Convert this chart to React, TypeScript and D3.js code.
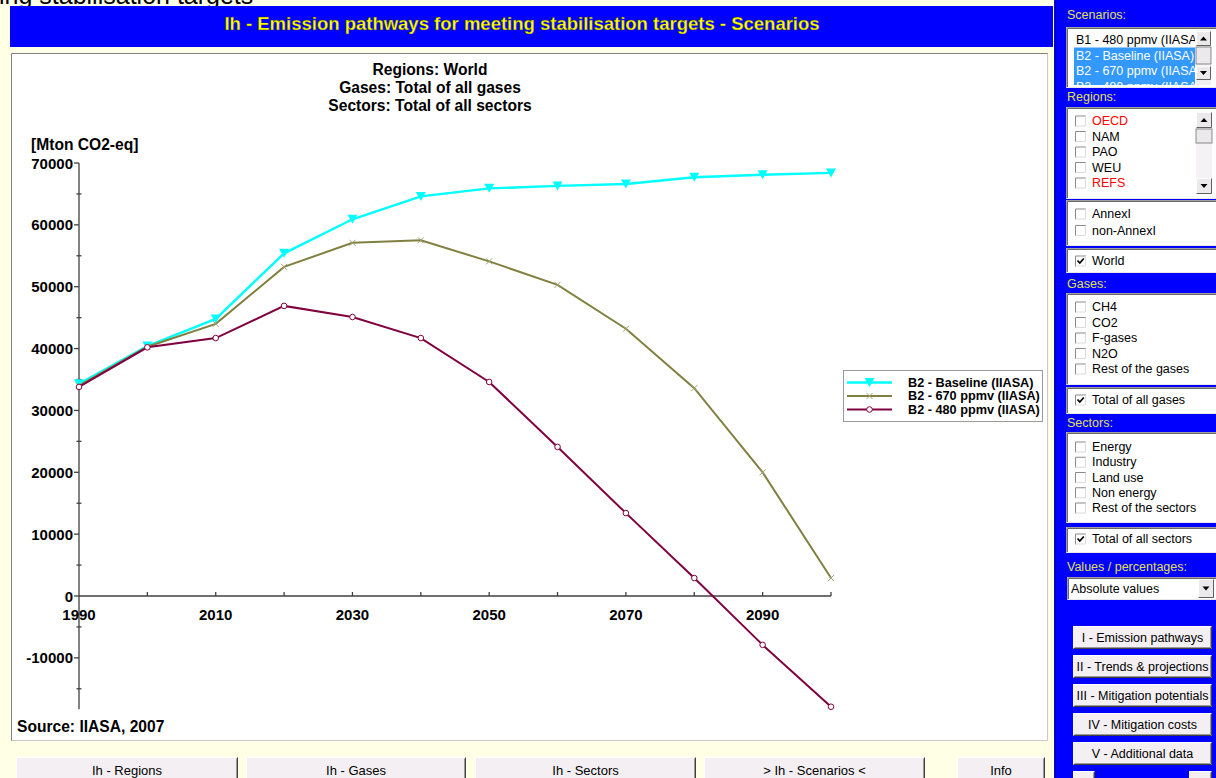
import React from 'react';
import * as d3 from 'd3';

// ---------- data ----------
const years = [1990, 2000, 2010, 2020, 2030, 2040, 2050, 2060, 2070, 2080, 2090, 2100];
const baseline = [34300, 40400, 44800, 55400, 60900, 64600, 65900, 66300, 66600, 67700, 68100, 68400];
const ppmv670 = [34000, 40300, 44000, 53200, 57100, 57500, 54100, 50300, 43200, 33600, 20000, 2900];
const ppmv480 = [33800, 40200, 41700, 46900, 45100, 41700, 34600, 24100, 13400, 2900, -7900, -17900];
const seriesNames = ['B2 - Baseline (IIASA)', 'B2 - 670 ppmv (IIASA)', 'B2 - 480 ppmv (IIASA)'];
const yTickLabels = [-10000, 0, 10000, 20000, 30000, 40000, 50000, 60000, 70000];
const xTickLabels = [1990, 2010, 2030, 2050, 2070, 2090];
const titleLines = ['Regions: World', 'Gases: Total of all gases', 'Sectors: Total of all sectors'];
const unitLabel = '[Mton CO2-eq]';
const sourceLabel = 'Source: IIASA, 2007';
const mainTitle = 'Ih - Emission pathways for meeting stabilisation targets - Scenarios';
const pageHeading = 'ing stabilisation targets';
const scenarioItems = ['B1 - 480 ppmv (IIASA)', 'B2 - Baseline (IIASA)', 'B2 - 670 ppmv (IIASA)', 'B2 - 480 ppmv (IIASA)'];
const scenarioSelected = [false, true, true, true];
const regionItems = ['OECD', 'NAM', 'PAO', 'WEU', 'REFS'];
const regionRed = [true, false, false, false, true];
const annexItems = ['AnnexI', 'non-AnnexI'];
const gasItems = ['CH4', 'CO2', 'F-gases', 'N2O', 'Rest of the gases'];
const sectorItems = ['Energy', 'Industry', 'Land use', 'Non energy', 'Rest of the sectors'];
const navButtons = ['I - Emission pathways', 'II - Trends & projections', 'III - Mitigation potentials', 'IV - Mitigation costs', 'V - Additional data'];
const bottomButtons = ['Ih - Regions', 'Ih - Gases', 'Ih - Sectors', '> Ih - Scenarios <', 'Info'];

const FONT = "'Liberation Sans', Arial, Helvetica, sans-serif";
const COLORS = ['#00FFFF', '#808040', '#800040'];
const BLUE = '#0000FF';
const PAGE_BG = '#FFFFE6';
const LABEL_YELLOW = '#E0E050';

const series = [baseline, ppmv670, ppmv480];

function Marker({ kind, cx, cy }: { kind: number; cx: number; cy: number }) {
  if (kind === 0) {
    return <path d={`M${cx - 5},${cy - 4.5}L${cx + 5},${cy - 4.5}L${cx},${cy + 4.5}Z`} fill={COLORS[0]} />;
  }
  if (kind === 1) {
    return (
      <path
        d={`M${cx - 3},${cy - 3}L${cx + 3},${cy + 3}M${cx - 3},${cy + 3}L${cx + 3},${cy - 3}`}
        stroke="#a0a070"
        strokeWidth={1}
        fill="none"
      />
    );
  }
  return <circle cx={cx} cy={cy} r={2.8} fill="#fff" stroke={COLORS[2]} strokeWidth={1} />;
}

function Checkbox({ x, cy, checked }: { x: number; cy: number; checked?: boolean }) {
  const y = cy - 5.5;
  return (
    <g>
      <rect x={x} y={y} width={11} height={11} fill="#fff" />
      <path d={`M${x + 0.5},${y + 11}V${y + 0.5}H${x + 11}`} stroke="#8a8a8a" fill="none" />
      <path d={`M${x + 0.5},${y + 10.5}H${x + 10.5}V${y + 0.5}`} stroke="#dcdcdc" fill="none" />
      {checked && (
        <path d={`M${x + 2.5},${y + 5} l2.3,2.5 l4,-4.5`} stroke="#000" strokeWidth={1.7} fill="none" />
      )}
    </g>
  );
}

function Sunken({ x, y, w, h }: { x: number; y: number; w: number; h: number }) {
  return (
    <g>
      <rect x={x} y={y} width={w} height={h} fill="#fff" />
      <path d={`M${x + 0.5},${y + h}V${y + 0.5}H${x + w}`} stroke="#a0a0a0" fill="none" />
      <path d={`M${x + 1.5},${y + h - 1}V${y + 1.5}H${x + w - 1}`} stroke="#696969" fill="none" />
      <path d={`M${x + 0.5},${y + h - 0.5}H${x + w - 0.5}V${y + 0.5}`} stroke="#e8e8e8" fill="none" />
    </g>
  );
}

function Button3D({ x, y, w, h, label, fontSize = 12.5, narrow = false }: any) {
  return (
    <g>
      <rect x={x} y={y} width={w} height={h} fill="#F3EFF3" />
      <path d={`M${x + 0.5},${y + h}V${y + 0.5}H${x + w}`} stroke="#ffffff" fill="none" />
      <path d={`M${x + 0.5},${y + h - 0.5}H${x + w - 0.5}V${y + 0.5}`} stroke="#404040" fill="none" />
      <path d={`M${x + 1.5},${y + h - 1.5}H${x + w - 1.5}V${y + 1.5}`} stroke="#9a9a9a" fill="none" />
      <text
        x={x + w / 2}
        y={y + h / 2 + 0.5}
        textAnchor="middle"
        dominantBaseline="central"
        fontFamily={narrow ? "'Liberation Sans Narrow', 'Arial Narrow', " + FONT : FONT}
        fontSize={fontSize}
        fill="#000"
      >
        {label}
      </text>
    </g>
  );
}

function ScrollArrow({ x, y, w, h, up }: any) {
  const cx = x + w / 2;
  const cy = y + h / 2;
  return (
    <g>
      <rect x={x} y={y} width={w} height={h} fill="#ECE9EC" />
      <path d={`M${x + 0.5},${y + h}V${y + 0.5}H${x + w}`} stroke="#fff" fill="none" />
      <path d={`M${x + 0.5},${y + h - 0.5}H${x + w - 0.5}V${y + 0.5}`} stroke="#606060" fill="none" />
      <path
        d={up ? `M${cx - 3.5},${cy + 2}L${cx + 3.5},${cy + 2}L${cx},${cy - 2}Z` : `M${cx - 3.5},${cy - 2}L${cx + 3.5},${cy - 2}L${cx},${cy + 2}Z`}
        fill="#000"
      />
    </g>
  );
}

export default function App() {
  const x = d3.scaleLinear().domain([1990, 2100]).range([79, 831]);
  const y = d3.scaleLinear().domain([0, 70000]).range([596, 163]);
  const yAxisBottom = y(-18300);
  const minorY = d3.range(-15000, 70001, 5000).filter((v) => v % 10000 !== 0);
  const xTicks = d3.range(2000, 2101, 10);
  const lineGen = d3
    .line<number>()
    .x((_, i) => x(years[i]))
    .y((d) => y(d));

  const panelX = 1066;
  const rowText = 1092;
  const cbX = 1075;

  return (
    <svg
      width={1216}
      height={778}
      viewBox="0 0 1216 778"
      style={{ position: 'absolute', left: 0, top: 0, display: 'block' }}
      fontFamily={FONT}
    >
      <rect x={0} y={0} width={1216} height={778} fill={PAGE_BG} />
      {/* page heading cut at top */}
      <text x={-1} y={3.5} fontSize={25} fill="#000" fontFamily={FONT}>
        {pageHeading}
      </text>

      {/* title bar */}
      <rect x={10} y={6} width={1043} height={41} fill={BLUE} />
      <text x={522} y={30} textAnchor="middle" fontSize={18.5} fontWeight="bold" fill="#FFFF00" stroke="#303000" strokeWidth={0.3}>
        {mainTitle}
      </text>

      {/* chart panel */}
      <rect x={11} y={53} width={1037} height={688} fill="#fff" />
      <path d="M11.5,741V53.5H1048" stroke="#808080" fill="none" />
      <path d="M11.5,740.5H1047.5V53.5" stroke="#c8c8c8" fill="none" />

      {titleLines.map((t, i) => (
        <text key={t} x={430} y={69 + i * 18} textAnchor="middle" dominantBaseline="central" fontSize={15.6} fontWeight="bold" fill="#000">
          {t}
        </text>
      ))}
      <text x={31} y={144} dominantBaseline="central" fontSize={15.6} fontWeight="bold" fill="#000">
        {unitLabel}
      </text>
      <text x={17} y={726} dominantBaseline="central" fontSize={15.6} fontWeight="bold" fill="#000">
        {sourceLabel}
      </text>

      {/* axes */}
      <g stroke="#404040" strokeWidth={1.3} fill="none">
        <line x1={x(1990)} x2={x(1990)} y1={y(70000)} y2={yAxisBottom} />
        <line x1={x(1990)} x2={x(2100)} y1={y(0)} y2={y(0)} />
        {yTickLabels.map((v) => (
          <line key={v} x1={x(1990) - 5} x2={x(1990)} y1={y(v)} y2={y(v)} />
        ))}
        {minorY.map((v) => (
          <line key={v} x1={x(1990) - 2.5} x2={x(1990) + 2.5} y1={y(v)} y2={y(v)} />
        ))}
        {xTicks.map((v) => (
          <line key={v} x1={x(v)} x2={x(v)} y1={y(0)} y2={y(0) - 4} />
        ))}
      </g>
      {yTickLabels.map((v) => (
        <text key={v} x={73} y={y(v)} textAnchor="end" dominantBaseline="central" fontSize={15} fontWeight="bold" fill="#000">
          {v}
        </text>
      ))}
      {xTickLabels.map((v) => (
        <text key={v} x={x(v)} y={614} textAnchor="middle" dominantBaseline="central" fontSize={15} fontWeight="bold" fill="#000">
          {v}
        </text>
      ))}

      {/* series */}
      {series.map((s, si) => (
        <g key={si}>
          <path d={lineGen(s) || ''} fill="none" stroke={COLORS[si]} strokeWidth={si === 0 ? 2.4 : 2} />
          {s.map((v, i) => (
            <Marker key={i} kind={si} cx={x(years[i])} cy={y(v)} />
          ))}
        </g>
      ))}

      {/* legend */}
      <rect x={843.5} y={370.5} width={199} height={51} fill="#fff" stroke="#9a9a9a" />
      {seriesNames.map((n, i) => {
        const cy = 382.5 + i * 13.5;
        return (
          <g key={n}>
            <line x1={847} x2={892} y1={cy} y2={cy} stroke={COLORS[i]} strokeWidth={i === 0 ? 2.4 : 2} />
            <Marker kind={i} cx={869.5} cy={cy} />
            <text x={908} y={cy} dominantBaseline="central" fontSize={12.7} fontWeight="bold" fill="#000">
              {n}
            </text>
          </g>
        );
      })}

      {/* bottom buttons */}
      {bottomButtons.map((b, i) => {
        const xs = [16, 246, 475, 704, 957];
        const ws = [222, 220, 221, 221, 88];
        return <Button3D key={b} x={xs[i]} y={757} w={ws[i]} h={26} label={b} fontSize={13} narrow />;
      })}

      {/* right panel */}
      <rect x={1054} y={0} width={162} height={778} fill={BLUE} />
      <line x1={1055.5} x2={1055.5} y1={0} y2={778} stroke="#00008a" />

      <text x={1067} y={15} dominantBaseline="central" fontSize={12.5} fill={LABEL_YELLOW}>Scenarios:</text>
      <Sunken x={panelX} y={27} w={152} h={61} />
      <clipPath id="scClip">
        <rect x={1069} y={29} width={126} height={56} />
      </clipPath>
      <g clipPath="url(#scClip)">
        <rect x={1074} y={47.5} width={121} height={40} fill="#3399FF" />
        {scenarioItems.map((s, i) => (
          <text key={s + i} x={1076} y={40 + i * 15.5} dominantBaseline="central" fontSize={12.5} fill={scenarioSelected[i] ? '#ffffff' : '#000'}>
            {s}
          </text>
        ))}
      </g>
      <rect x={1196} y={30} width={15} height={55} fill="#F2F0F2" />
      <ScrollArrow x={1196} y={31} w={15} h={15} up />
      <rect x={1196} y={47} width={15} height={17} fill="#ECE9EC" stroke="#707070" strokeWidth={0.8} />
      <ScrollArrow x={1196} y={66} w={15} h={14} up={false} />

      <text x={1067} y={97} dominantBaseline="central" fontSize={12.5} fill={LABEL_YELLOW}>Regions:</text>
      <Sunken x={panelX} y={107} w={152} h={92} />
      {regionItems.map((r, i) => (
        <g key={r}>
          <Checkbox x={cbX} cy={121 + i * 15.5} />
          <text x={rowText} y={121 + i * 15.5} dominantBaseline="central" fontSize={12.5} fill={regionRed[i] ? '#FF0000' : '#000'}>
            {r}
          </text>
        </g>
      ))}
      <rect x={1196} y={112} width={16} height={82} fill="#F4F2F4" />
      <ScrollArrow x={1196} y={112} w={16} h={16} up />
      <rect x={1196} y={129} width={16} height={14} fill="#ECE9EC" stroke="#707070" strokeWidth={0.8} />
      <ScrollArrow x={1196} y={178} w={16} h={16} up={false} />

      <Sunken x={panelX} y={200} w={152} h={46} />
      {annexItems.map((r, i) => (
        <g key={r}>
          <Checkbox x={cbX} cy={214 + i * 16.5} />
          <text x={rowText} y={214 + i * 16.5} dominantBaseline="central" fontSize={12.5} fill="#000">
            {r}
          </text>
        </g>
      ))}

      <Sunken x={panelX} y={248} w={152} h={25} />
      <Checkbox x={cbX} cy={261} checked />
      <text x={rowText} y={261} dominantBaseline="central" fontSize={12.5} fill="#000">World</text>

      <text x={1067} y={284} dominantBaseline="central" fontSize={12.5} fill={LABEL_YELLOW}>Gases:</text>
      <Sunken x={panelX} y={293} w={152} h={92} />
      {gasItems.map((r, i) => (
        <g key={r}>
          <Checkbox x={cbX} cy={307 + i * 15.5} />
          <text x={rowText} y={307 + i * 15.5} dominantBaseline="central" fontSize={12.5} fill="#000">
            {r}
          </text>
        </g>
      ))}
      <Sunken x={panelX} y={387} w={152} h={27} />
      <Checkbox x={cbX} cy={400} checked />
      <text x={rowText} y={400} dominantBaseline="central" fontSize={12.5} fill="#000">Total of all gases</text>

      <text x={1067} y={423} dominantBaseline="central" fontSize={12.5} fill={LABEL_YELLOW}>Sectors:</text>
      <Sunken x={panelX} y={432} w={152} h={91} />
      {sectorItems.map((r, i) => (
        <g key={r}>
          <Checkbox x={cbX} cy={447 + i * 15.25} />
          <text x={rowText} y={447 + i * 15.25} dominantBaseline="central" fontSize={12.5} fill="#000">
            {r}
          </text>
        </g>
      ))}
      <Sunken x={panelX} y={527} w={152} h={26} />
      <Checkbox x={cbX} cy={539} checked />
      <text x={rowText} y={539} dominantBaseline="central" fontSize={12.5} fill="#000">Total of all sectors</text>

      <text x={1067} y={567} dominantBaseline="central" fontSize={12.5} fill={LABEL_YELLOW}>Values / percentages:</text>
      <Sunken x={1067} y={577} w={151} h={23} />
      <text x={1071} y={589} dominantBaseline="central" fontSize={12.5} fill="#000">Absolute values</text>
      <ScrollArrow x={1198} y={579} w={16} h={19} up={false} />

      {navButtons.map((b, i) => (
        <Button3D key={b} x={1073} y={626 + i * 29} w={139} h={23} label={b} fontSize={12.5} />
      ))}
      <Button3D x={1073} y={771} w={22} h={20} label="" />
      <Button3D x={1189} y={771} w={23} h={20} label="" />
    </svg>
  );
}
